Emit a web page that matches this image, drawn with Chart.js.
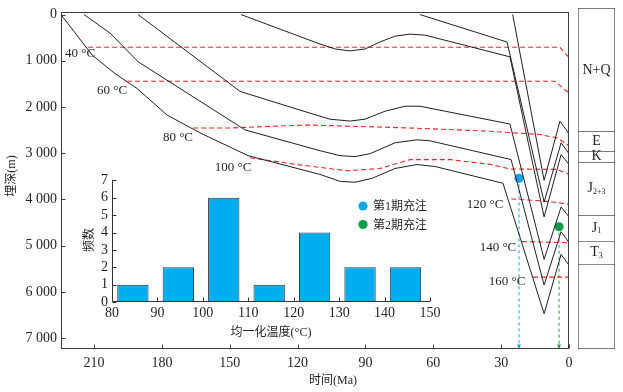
<!DOCTYPE html>
<html><head><meta charset="utf-8">
<script src="https://cdn.jsdelivr.net/npm/chart.js@4.4.1/dist/chart.umd.min.js"></script>
<style>
html,body{margin:0;padding:0;background:#fff;}
#wrap{position:relative;width:623px;height:392px;overflow:hidden;}
canvas{position:absolute;}
#main{left:0;top:0;width:623px;height:392px;}
#inset{left:72px;top:168px;width:380px;height:175px;}
#col{left:577px;top:0;width:40px;height:392px;}
</style></head><body>
<div id="wrap">
<canvas id="main" width="623" height="392"></canvas>
<canvas id="inset" width="380" height="175"></canvas>
<canvas id="col" width="40" height="392"></canvas>
</div>
<script>
// ---------- axis ticks ----------
const xAxisTicks = [0, 30, 60, 90, 120, 150, 180, 210];
const yAxisTicks = [0, 1000, 2000, 3000, 4000, 5000, 6000, 7000];

// ---------- burial history: base of each unit (time Ma, depth m) ----------
const tT3  = [224.6, 210.9, 200.7, 191.0, 177.7, 163.1, 141.9, 110.1, 101.2, 94.6, 87.1, 76.9, 67.2, 59.2, 29.2, 11.0, 3.5, 0];
const dT3  = [0, 872, 1278, 1598, 2175, 2560, 3052, 3458, 3608, 3628, 3543, 3330, 3244, 3287, 3650, 6471, 5189, 5423];
const tJ1  = [214.4, 202.9, 190.5, 143.2, 110.1, 101.2, 94.6, 88.0, 76.9, 67.2, 61.5, 25.6, 11.0, 3.5, 0];
const dJ1  = [0, 402, 1021, 2496, 2945, 3052, 3073, 3009, 2774, 2710, 2731, 3137, 5851, 4697, 4932];
const tJ23 = [190.5, 145.4, 118.9, 105.7, 96.8, 90.2, 81.3, 72.5, 65.9, 26.1, 11.0, 3.5, 0];
const dJ23 = [0, 1663, 2067, 2263, 2304, 2263, 2090, 1983, 1983, 2368, 5295, 4163, 4376];
const tK   = [145.0, 110.1, 103.4, 96.8, 90.2, 83.6, 76.9, 70.3, 63.7, 26.1, 11.0, 3.5, 0];
const dK   = [0, 637, 744, 786, 744, 594, 466, 423, 444, 915, 4377, 3030, 3244];
const tE   = [65.9, 27.4, 11.0, 3.5, 0];
const dE   = [0, 594, 4056, 2774, 3009];
const tNQ  = [24.9, 11.0, 4.0, 0];
const dNQ  = [0, 3586, 2304, 2581];

// ---------- isotherms ----------
const isoNames = ['40 °C', '60 °C', '80 °C', '100 °C', '120 °C', '140 °C', '160 °C'];
const t40  = [212.6, 4.0, 0];             const d40  = [708, 708, 930];
const t60  = [195.4, 6.2, 0];             const d60  = [1442, 1442, 1700];
const t80  = [166.2, 149.9, 115.8, 70.3, 34.9, 12.8, 5.3, 0];
const d80  = [2453, 2453, 2389, 2453, 2524, 2596, 2667, 2838];
const t100 = [141.0, 120.2, 98.0, 83.6, 70.3, 52.6, 34.9, 26.1, 5.3, 0];
const d100 = [3097, 3244, 3380, 3330, 3137, 3137, 3240, 3340, 3350, 3458];
const t120 = [25.5, 12.0, 0];             const d120 = [3990, 4030, 4100];
const t140 = [20.8, 0];                   const d140 = [4911, 4935];
const t160 = [15.9, 0];                   const d160 = [5680, 5680];
// label anchors (time, depth)
const isoLabelT = [216.2, 202.0, 172.9, 148.5, 37.1, 31.4, 27.4];
const isoLabelD = [850, 1641, 2667, 3308, 4120, 5039, 5787];

// ---------- charging events ----------
const chargeNames = ['第1期充注', '第2期充注'];
const chargeTime  = [22.1, 4.4];
const chargeDepth = [3543, 4590];

// ---------- histogram ----------
const binStart  = [80, 90, 100, 110, 120, 130, 140];
const binCount  = [1, 2, 6, 1, 4, 2, 2];
const histXTicks = [80, 90, 100, 110, 120, 130, 140, 150];
const histYTicks = [0, 1, 2, 3, 4, 5, 6, 7];

// ---------- stratigraphic column ----------
const unitNames = ['N+Q', 'E', 'K', 'J', 'J', 'T', ''];
const unitSubs  = ['', '', '', '2+3', '1', '3', ''];
const unitBase  = [2581, 3008, 3244, 4376, 4932, 5423, null];

// ---------- settings ----------
const T_MAX = 224.6, D_MIN = -47, D_MAX = 7235;
const FONT = "'Liberation Serif','Noto Sans CJK SC',serif";
const TXT = '#231f20';
const RED = '#e8262b';
const BLUE = '#12a4e4';
const GREEN = '#109b4a';

const pts = (t, d) => t.map((v, i) => ({x: v, y: d[i]}));
const curveSets = [[tT3, dT3], [tJ1, dJ1], [tJ23, dJ23], [tK, dK], [tE, dE], [tNQ, dNQ]];
const isoSets = [[t40, d40], [t60, d60], [t80, d80], [t100, d100], [t120, d120], [t140, d140], [t160, d160]];
const chargeColors = [BLUE, GREEN];

const datasets = [];
curveSets.forEach(([t, d]) => datasets.push({data: pts(t, d), showLine: true, borderColor: '#231f20', borderWidth: 1, pointRadius: 0, tension: 0, fill: false}));
isoSets.forEach(([t, d]) => datasets.push({data: pts(t, d), showLine: true, borderColor: RED, borderWidth: 1.1, borderDash: [5, 3], pointRadius: 0, tension: 0, fill: false}));
chargeTime.forEach((t, i) => datasets.push({data: [{x: t, y: chargeDepth[i]}, {x: t, y: D_MAX}], showLine: true, borderColor: chargeColors[i], borderWidth: 1, borderDash: [3, 3], pointRadius: 0, fill: false}));
chargeTime.forEach((t, i) => datasets.push({label: chargeNames[i], data: [{x: t, y: chargeDepth[i]}], showLine: false, pointRadius: 4.6, pointBackgroundColor: chargeColors[i], pointBorderWidth: 0}));

const fmtDepth = v => v >= 1000 ? Math.floor(v / 1000) + ' ' + String(v % 1000).padStart(3, '0') : String(v);

const mainDeco = {
  id: 'mainDeco',
  afterDraw(chart) {
    const {ctx, chartArea: a, scales: {x, y}} = chart;
    ctx.save();
    ctx.strokeStyle = '#3b3b3b';
    ctx.lineWidth = 1;
    const L = Math.round(a.left) + 0.5, T = Math.round(a.top) + 0.5, R = Math.round(a.right) - 0.5, B = Math.round(a.bottom) - 0.5;
    ctx.strokeRect(L, T, R - L, B - T);
    ctx.beginPath();
    xAxisTicks.forEach(v => { const p = Math.round(x.getPixelForValue(v)) + 0.5; ctx.moveTo(p, B); ctx.lineTo(p, B - 4); });
    yAxisTicks.forEach(v => { const p = Math.round(y.getPixelForValue(v)) + 0.5; ctx.moveTo(L, p); ctx.lineTo(L + 4, p); });
    ctx.stroke();
    // arrow heads of charge lines
    chargeTime.forEach((t, i) => {
      const px = x.getPixelForValue(t);
      ctx.fillStyle = chargeColors[i];
      ctx.beginPath();
      ctx.moveTo(px - 2, B - 4); ctx.lineTo(px + 2, B - 4); ctx.lineTo(px, B); ctx.closePath(); ctx.fill();
    });
    // isotherm labels
    ctx.fillStyle = TXT;
    ctx.font = '13px ' + FONT;
    ctx.textAlign = 'center'; ctx.textBaseline = 'middle';
    isoNames.forEach((n, i) => ctx.fillText(n, x.getPixelForValue(isoLabelT[i]), y.getPixelForValue(isoLabelD[i])));
    // legend
    ctx.font = '12px ' + FONT;
    ctx.textAlign = 'left';
    chargeNames.forEach((n, i) => {
      const ly = 206 + i * 18.5;
      ctx.fillStyle = chargeColors[i];
      ctx.beginPath(); ctx.arc(363, ly, 4.6, 0, Math.PI * 2); ctx.fill();
      ctx.fillStyle = TXT;
      ctx.fillText(n, 373, ly + 1);
    });
    // axis titles
    ctx.font = '12px ' + FONT;
    ctx.textAlign = 'center';
    ctx.fillText('时间(Ma)', 333, 381);
    ctx.translate(12, 176); ctx.rotate(-Math.PI / 2);
    ctx.fillText('埋深(m)', 0, 0);
    ctx.restore();
  }
};

new Chart(document.getElementById('main'), {
  type: 'scatter',
  data: {datasets},
  options: {
    responsive: false, animation: false, devicePixelRatio: 1,
    layout: {padding: {left: 0, top: 8, right: 54, bottom: 0}},
    plugins: {legend: {display: false}, tooltip: {enabled: false}},
    scales: {
      x: {
        type: 'linear', reverse: true, min: 0, max: T_MAX,
        afterBuildTicks: s => { s.ticks = xAxisTicks.map(v => ({value: v})); },
        afterFit: s => { s.height = 43; },
        grid: {display: false, drawTicks: false}, border: {display: false},
        ticks: {font: {family: FONT, size: 14}, color: TXT, padding: 6, maxRotation: 0, autoSkip: false}
      },
      y: {
        type: 'linear', reverse: true, min: D_MIN, max: D_MAX,
        afterBuildTicks: s => { s.ticks = yAxisTicks.map(v => ({value: v})); },
        afterFit: s => { s.width = 61; },
        grid: {display: false, drawTicks: false}, border: {display: false},
        ticks: {font: {family: FONT, size: 14}, color: TXT, padding: 4, autoSkip: false, callback: v => fmtDepth(v)}
      }
    }
  },
  plugins: [mainDeco]
});

// ---------- inset histogram ----------
const insetDeco = {
  id: 'insetDeco',
  afterDraw(chart) {
    const {ctx, chartArea: a, scales: {x, y}} = chart;
    ctx.save();
    ctx.strokeStyle = '#333'; ctx.lineWidth = 1;
    const L = Math.round(a.left) + 0.5, B = Math.round(a.bottom) - 0.5;
    ctx.beginPath();
    ctx.moveTo(L, Math.round(a.top)); ctx.lineTo(L, B); ctx.lineTo(Math.round(a.right), B);
    histYTicks.forEach(v => { const p = Math.round(y.getPixelForValue(v)) + 0.5; ctx.moveTo(L, p); ctx.lineTo(L + 4, p); });
    histXTicks.slice(1).forEach(v => { const p = Math.round(x.getPixelForValue(v)) + 0.5; ctx.moveTo(p, B); ctx.lineTo(p, B - 4); });
    ctx.stroke();
    ctx.fillStyle = TXT;
    ctx.font = '12px ' + FONT;
    ctx.textAlign = 'center'; ctx.textBaseline = 'middle';
    ctx.fillText('均一化温度(°C)', 199, 165);
    ctx.translate(18, 72); ctx.rotate(-Math.PI / 2);
    ctx.fillText('频数', 0, 0);
    ctx.restore();
  }
};

new Chart(document.getElementById('inset'), {
  type: 'bar',
  data: {datasets: [{data: binStart.map((b, i) => ({x: b + 4.6, y: binCount[i]})), backgroundColor: '#00aeef', borderColor: '#333', borderWidth: 1, barPercentage: 0.69, categoryPercentage: 1}]},
  options: {
    responsive: false, animation: false, devicePixelRatio: 1,
    layout: {padding: {left: 0, top: 11, right: 22, bottom: 0}},
    plugins: {legend: {display: false}, tooltip: {enabled: false}},
    scales: {
      x: {
        type: 'linear', min: 80, max: 150, offset: false,
        afterBuildTicks: s => { s.ticks = histXTicks.map(v => ({value: v})); },
        afterFit: s => { s.height = 41; },
        grid: {display: false, drawTicks: false}, border: {display: false},
        ticks: {font: {family: FONT, size: 14}, color: TXT, padding: 3, maxRotation: 0, autoSkip: false}
      },
      y: {
        type: 'linear', min: 0, max: 7,
        afterBuildTicks: s => { s.ticks = histYTicks.map(v => ({value: v})); },
        afterFit: s => { s.width = 40; },
        grid: {display: false, drawTicks: false}, border: {display: false},
        ticks: {font: {family: FONT, size: 14}, color: TXT, padding: 4, autoSkip: false}
      }
    }
  },
  plugins: [insetDeco]
});

// ---------- stratigraphic column ----------
const colLabels = {
  id: 'colLabels',
  afterDatasetsDraw(chart) {
    const {ctx, chartArea: a, scales: {y}} = chart;
    ctx.save();
    ctx.fillStyle = TXT; ctx.textBaseline = 'middle'; ctx.textAlign = 'left';
    const cx = (a.left + a.right) / 2;
    unitNames.forEach((n, i) => {
      if (!n) return;
      const top = i === 0 ? 0 : unitBase[i - 1];
      const yc = y.getPixelForValue((Math.max(top, D_MIN) + unitBase[i]) / 2);
      ctx.font = '14px ' + FONT;
      const w1 = ctx.measureText(n).width;
      ctx.font = '8px ' + FONT;
      const w2 = unitSubs[i] ? ctx.measureText(unitSubs[i]).width : 0;
      const x0 = cx - (w1 + w2) / 2;
      ctx.font = '14px ' + FONT;
      ctx.fillText(n, x0, yc);
      if (unitSubs[i]) { ctx.font = '8px ' + FONT; ctx.fillText(unitSubs[i], x0 + w1, yc + 3); }
    });
    ctx.restore();
  }
};

const lastIdx = unitNames.length - 1;
new Chart(document.getElementById('col'), {
  type: 'bar',
  data: {
    labels: ['col'],
    datasets: unitNames.map((n, i) => ({
      label: n + unitSubs[i],
      data: [[i === 0 ? D_MIN : unitBase[i - 1], unitBase[i] === null ? D_MAX : unitBase[i]]],
      backgroundColor: '#fff', borderColor: '#4d4d4d',
      borderWidth: {top: 1, left: 1, right: 1, bottom: i === lastIdx ? 1 : 0},
      borderSkipped: false, grouped: false, barPercentage: 1, categoryPercentage: 1
    }))
  },
  options: {
    responsive: false, animation: false, devicePixelRatio: 1,
    layout: {padding: {left: 1, right: 2, top: 8, bottom: 43}},
    plugins: {legend: {display: false}, tooltip: {enabled: false}},
    scales: {x: {display: false}, y: {display: false, reverse: true, min: D_MIN, max: D_MAX}}
  },
  plugins: [colLabels]
});
</script>
</body></html>
